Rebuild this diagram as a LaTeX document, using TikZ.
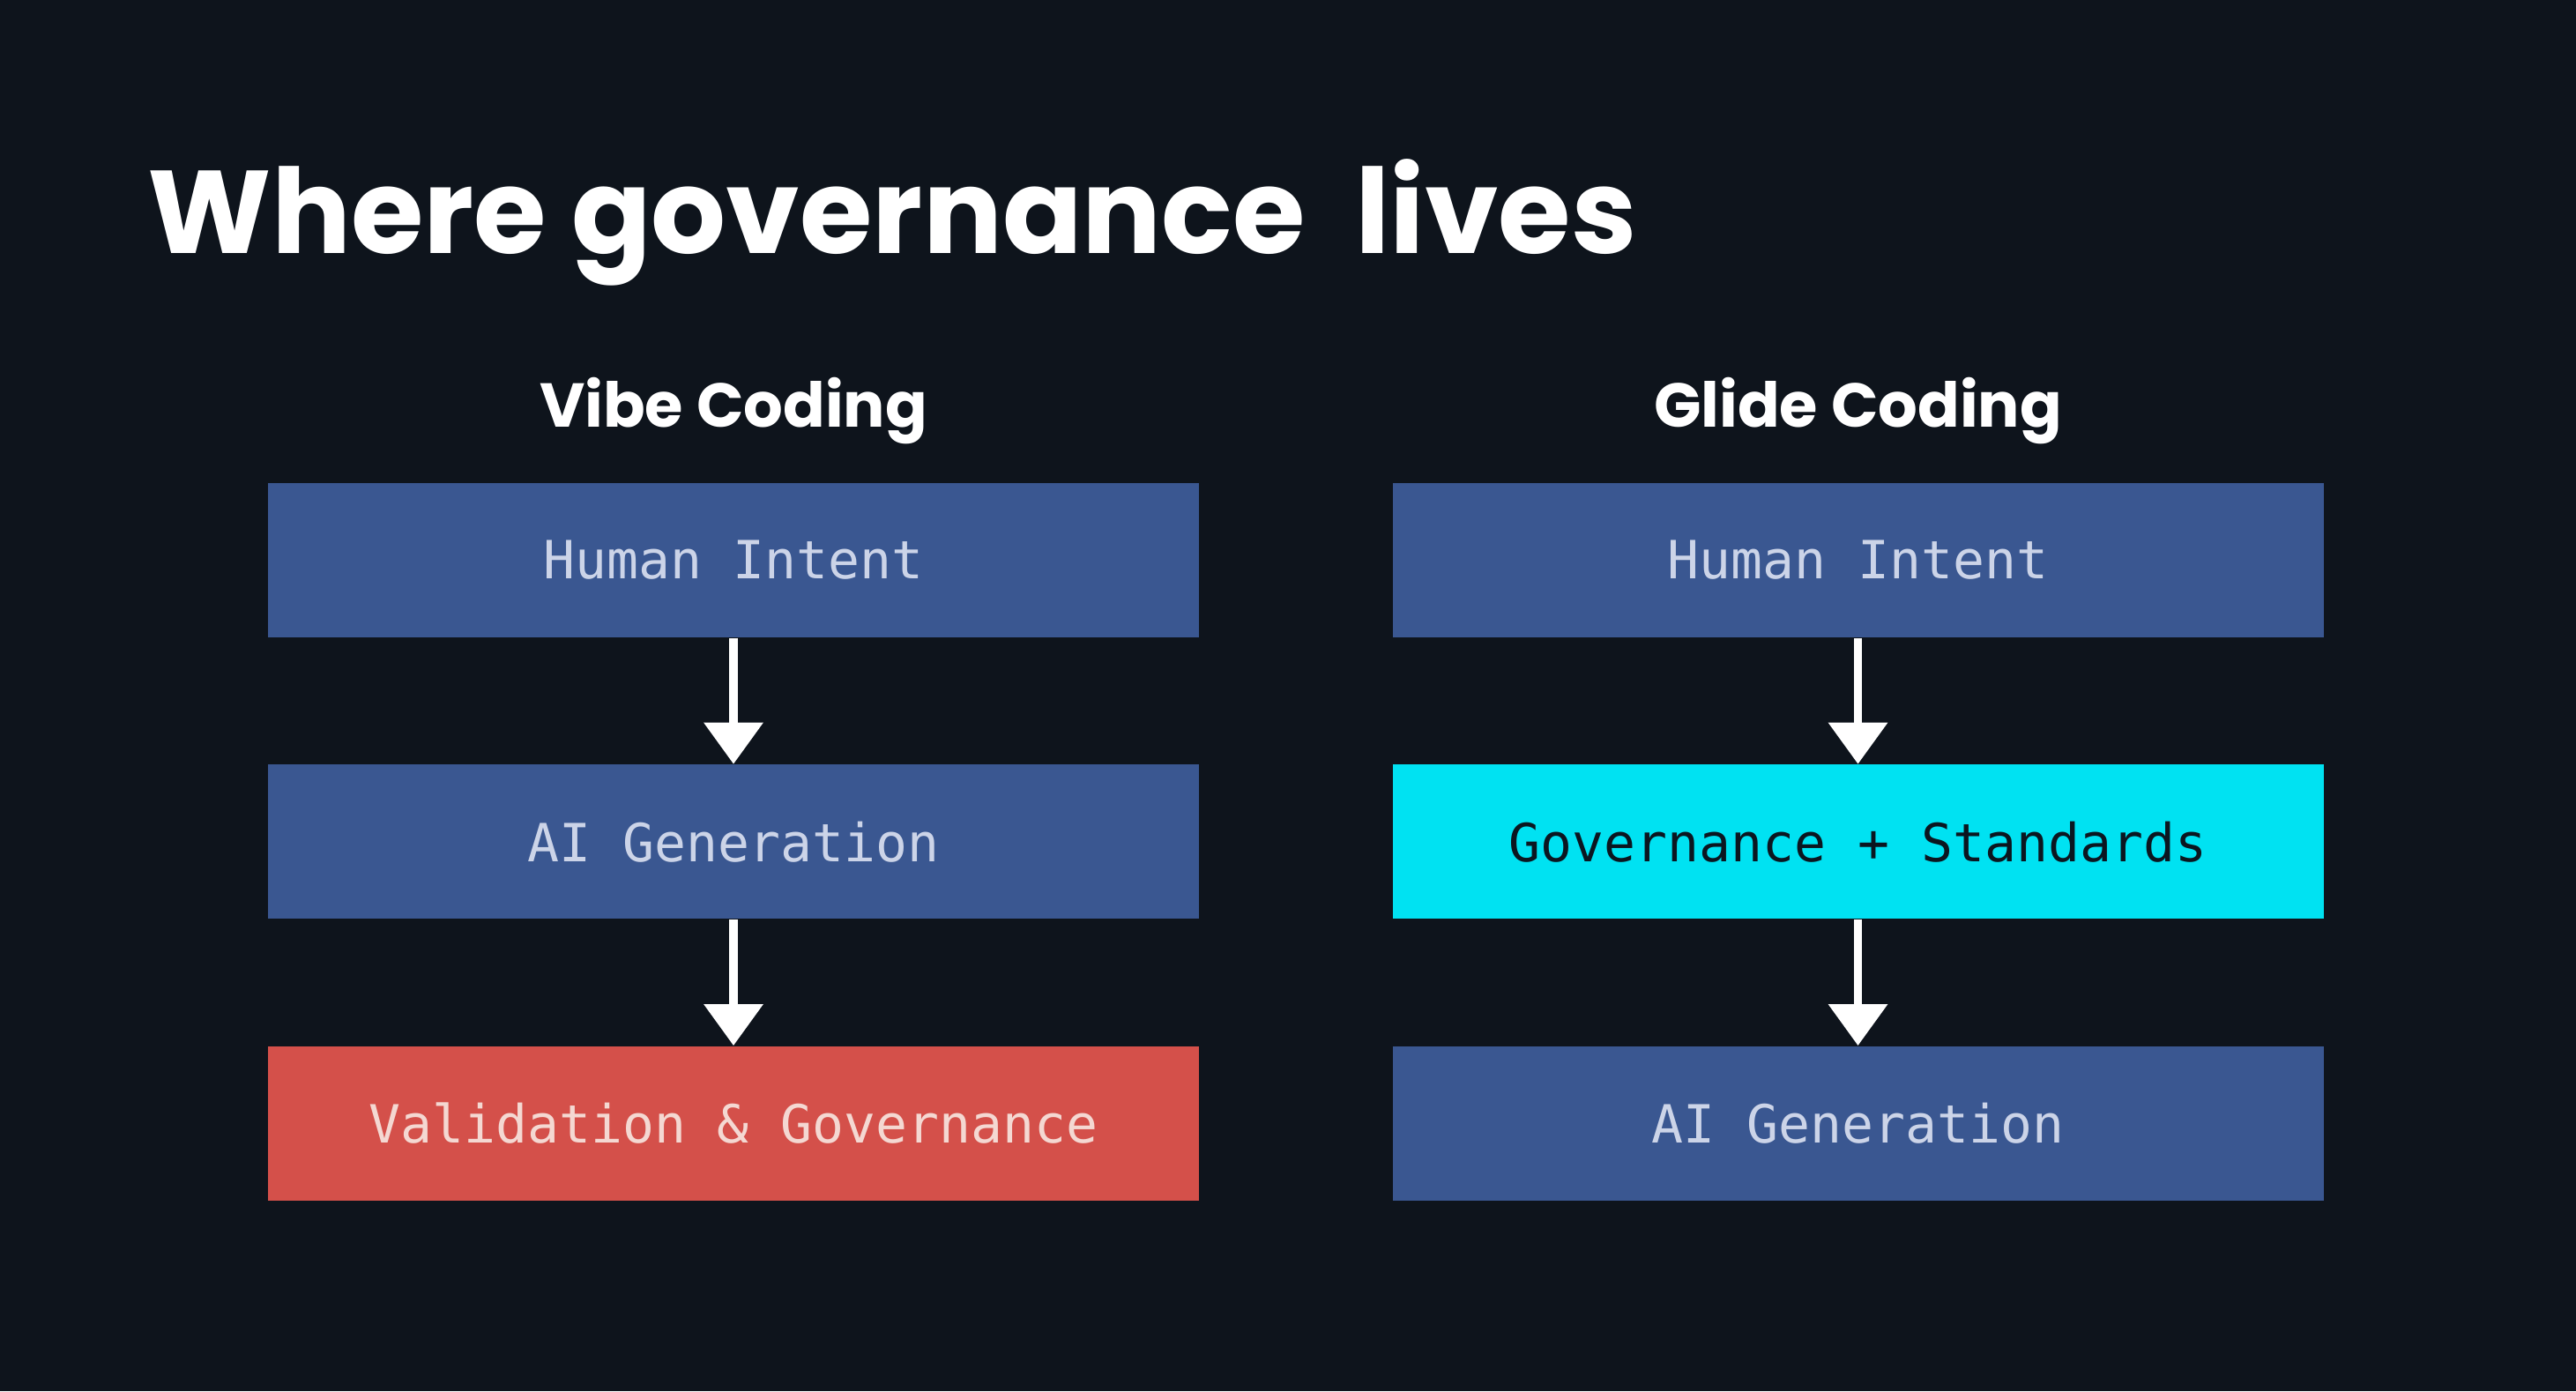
\documentclass[tikz,border=0pt]{standalone}
\usepackage{fontspec}
\setmainfont{Poppins}
\newfontfamily\boxfont{DejaVu Sans Mono}
\usepackage{xcolor}
\usepackage{tikz}
\usetikzlibrary{positioning}
\usetikzlibrary{arrows.meta}

\definecolor{bgnavy}{HTML}{0E141C}
\definecolor{boxblue}{HTML}{3A5791}
\definecolor{boxred}{HTML}{D4504A}
\definecolor{boxcyan}{HTML}{00E2F2}
\definecolor{txtblue}{HTML}{CCD4E8}
\definecolor{txtred}{HTML}{F4D8D2}
\definecolor{txtdark}{HTML}{0B1620}

\begin{document}
\begin{tikzpicture}[
        stage/.style = {rectangle, fill = boxblue, text = txtblue,
            minimum width = 10.56cm, minimum height = 1.75cm,
            inner sep = 0pt, font = \boxfont\fontsize{17}{20}\selectfont},
        alert/.style = {stage, fill = boxred, text = txtred},
        focus/.style = {stage, fill = boxcyan, text = txtdark},
        head/.style = {text = white, anchor = base,
            font = \bfseries\fontsize{20}{24}\selectfont},
        flow/.style = {white, line width = 2.8pt,
            -{Triangle[width = 0.65cm, length = 0.47cm]}}
    ]
        \fill[bgnavy] (0, 0) rectangle (29.22, -15.78);
        \useasboundingbox (0, 0) rectangle (29.22, -15.78);

        \node[text = white, anchor = base west, inner sep = 0pt,
            font = \bfseries\fontsize{38}{45}\selectfont]
            (title) at (1.67, -2.87) {Where governance\ \ lives};

        % left column
        \node[stage] (vintent) at (8.32, -6.355) {Human Intent};
        \node[stage, below = 1.43cm of vintent] (vgen) {AI Generation};
        \node[alert, below = 1.43cm of vgen] (vcheck) {Validation \& Governance};
        \node[head] (vhead) at ([yshift = 0.63cm]vintent.north) {Vibe Coding};

        % right column
        \node[stage] (gintent) at (21.075, -6.355) {Human Intent};
        \node[focus, below = 1.43cm of gintent] (grules) {Governance + Standards};
        \node[stage, below = 1.43cm of grules] (ggen) {AI Generation};
        \node[head] (ghead) at ([yshift = 0.63cm]gintent.north) {Glide Coding};

        \draw[flow] (vintent) -- (vgen);
        \draw[flow] (vgen) -- (vcheck);
        \draw[flow] (gintent) -- (grules);
        \draw[flow] (grules) -- (ggen);
        \end{tikzpicture}
\end{document}
